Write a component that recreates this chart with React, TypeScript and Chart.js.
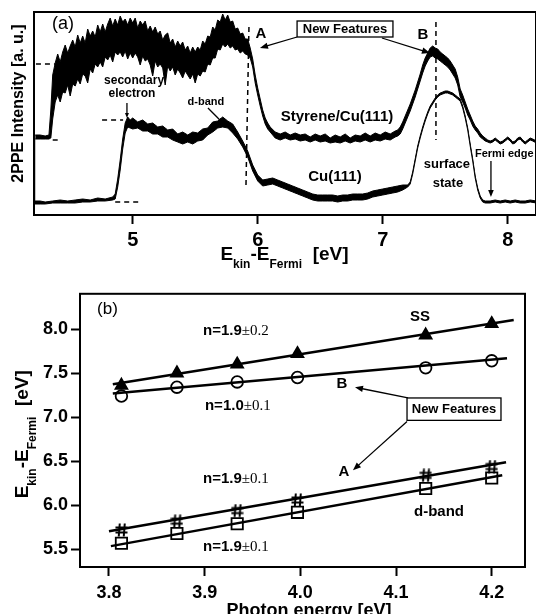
import React, { useEffect, useRef } from 'react';
import { Chart, registerables } from 'chart.js';

Chart.register(...registerables);

const SANS = "'Liberation Sans', Arial, Helvetica, sans-serif";
const SERIF = "'Liberation Serif', 'Times New Roman', serif";

// ---------------- Panel (a): 2PPE spectra ----------------
const aTickValues = [5, 6, 7, 8];
const aXRange = [4.2104, 8.2264];
const aYRange = [0, 203];

const styE = [4.22, 4.26, 4.30, 4.33, 4.345, 4.36, 4.38, 4.40, 4.42, 4.44, 4.46, 4.48, 4.50, 4.52, 4.54, 4.56, 4.58, 4.60, 4.62, 4.64, 4.66, 4.68, 4.70, 4.72, 4.74, 4.76, 4.78, 4.80, 4.82, 4.84, 4.86, 4.88, 4.90, 4.92, 4.94, 4.96, 4.98, 5.00, 5.02, 5.04, 5.06, 5.08, 5.10, 5.12, 5.14, 5.16, 5.18, 5.20, 5.22, 5.24, 5.26, 5.28, 5.30, 5.32, 5.34, 5.36, 5.38, 5.40, 5.42, 5.44, 5.46, 5.48, 5.50, 5.52, 5.54, 5.56, 5.58, 5.60, 5.62, 5.64, 5.66, 5.68, 5.70, 5.72, 5.74, 5.76, 5.78, 5.80, 5.82, 5.84, 5.86, 5.88, 5.90, 5.92, 5.94, 5.96, 5.98, 6.00, 6.02, 6.04, 6.06, 6.08, 6.10, 6.14, 6.18, 6.22, 6.26, 6.30, 6.34, 6.38, 6.42, 6.46, 6.50, 6.54, 6.58, 6.62, 6.66, 6.70, 6.74, 6.78, 6.82, 6.86, 6.90, 6.94, 6.98, 7.02, 7.06, 7.10, 7.12, 7.14, 7.16, 7.18, 7.20, 7.22, 7.24, 7.26, 7.28, 7.30, 7.32, 7.34, 7.36, 7.38, 7.40, 7.42, 7.44, 7.46, 7.48, 7.50, 7.52, 7.54, 7.56, 7.58, 7.60, 7.62, 7.64, 7.66, 7.68, 7.70, 7.72, 7.74, 7.76, 7.78, 7.80, 7.82, 7.84, 7.86, 7.88, 7.90, 7.92, 7.94, 7.96, 7.98, 8.00, 8.02, 8.04, 8.06, 8.08, 8.10, 8.12, 8.14, 8.16, 8.18, 8.20, 8.23];
const styHi = [80, 80, 79, 80, 105, 140,
  152, 161, 153, 163, 170, 162, 169, 175, 168, 180, 172, 179, 172, 186, 179, 184, 178, 190, 183, 191,
  183, 191, 197, 189, 196, 190, 199, 193, 196, 190, 197, 192, 197, 187, 194, 190, 194, 184, 189, 183,
  188, 181, 184, 175, 180, 182, 172, 176, 168, 174, 169, 173, 165, 169, 162, 168, 163, 168, 165, 174,
  171, 179, 178, 188, 185, 195, 193, 201, 195, 200, 193, 194, 186, 187, 181, 182, 176, 176, 167,
  156, 140, 127, 116, 105, 97, 92, 88, 83, 81, 83, 80, 82, 80, 81, 78, 81, 79, 81, 77, 80, 78, 81, 77, 80, 79, 82, 79, 82, 80, 83, 81, 84, 85, 88, 93, 99, 105, 111, 118, 125, 133, 141, 150, 157, 162, 167, 169, 167, 166, 163, 161, 159, 157, 154, 150, 146, 138, 126, 120, 113, 106, 100, 94, 89, 86, 82, 79, 77, 75, 74, 75, 77, 75, 73, 74, 76, 78, 76, 73, 74, 77, 78, 75, 73, 75, 77, 76, 74];
const styLo = [76, 76, 76, 76, 77, 96,
  113, 120, 113, 123, 122, 130, 119, 131, 129, 136, 131, 141, 139, 132, 146, 142, 151, 148, 153, 148,
  158, 155, 160, 153, 163, 160, 163, 158, 164, 156, 162, 157, 162, 158, 150, 159, 154, 156, 150, 139,
  154, 148, 151, 147, 130, 149, 144, 148, 140, 146, 142, 137, 144, 140, 136, 141, 132, 141, 139, 144,
  143, 151, 150, 157, 157, 166, 165, 171, 168, 171, 167, 169, 165, 166, 162, 164, 161, 160, 157,
  148, 132, 120, 109, 99, 91, 86, 83, 77, 75, 77, 75, 76, 74, 75, 73, 75, 73, 74, 72, 73, 72, 74, 72, 74, 73, 75, 73, 75, 74, 76, 75, 78, 79, 81, 86, 92, 98, 104, 111, 118, 126, 134, 142, 149, 154, 158, 159, 157, 156, 154, 152, 150, 148, 145, 141, 137, 130, 118, 113, 107, 100, 95, 89, 85, 82, 78, 76, 74, 73, 72, 73, 75, 73, 71, 72, 74, 76, 74, 71, 72, 75, 76, 73, 71, 73, 75, 74, 72];

const cuE = [4.21, 4.26, 4.30, 4.36, 4.42, 4.48, 4.54, 4.60, 4.66, 4.72, 4.78, 4.84, 4.86, 4.88, 4.90, 4.92, 4.94, 4.96, 4.98, 5.00, 5.04, 5.08, 5.12, 5.16, 5.20, 5.24, 5.28, 5.32, 5.36, 5.40, 5.44, 5.48, 5.52, 5.56, 5.60, 5.64, 5.68, 5.72, 5.76, 5.80, 5.84, 5.88, 5.92, 5.96, 6.00, 6.04, 6.08, 6.12, 6.16, 6.20, 6.24, 6.28, 6.32, 6.36, 6.40, 6.44, 6.48, 6.52, 6.56, 6.60, 6.64, 6.68, 6.72, 6.76, 6.80, 6.84, 6.88, 6.92, 6.96, 7.00, 7.04, 7.08, 7.12, 7.16, 7.20, 7.22, 7.24, 7.26, 7.28, 7.30, 7.32, 7.34, 7.36, 7.38, 7.40, 7.42, 7.44, 7.46, 7.48, 7.50, 7.52, 7.54, 7.56, 7.58, 7.60, 7.62, 7.64, 7.66, 7.68, 7.70, 7.72, 7.74, 7.76, 7.78, 7.80, 7.82, 7.86, 7.90, 7.94, 7.98, 8.02, 8.06, 8.10, 8.14, 8.18, 8.23];
const cuHi = [14, 14, 13, 14, 15, 14, 15, 16, 15, 17, 16, 18, 21, 36, 55, 76, 92, 98, 95, 97, 93, 95, 91, 92, 88, 89, 85, 86, 81, 83, 80, 83, 82, 86, 87, 93, 94, 98, 94, 91, 83, 74, 64, 50, 40, 35, 36, 37, 35, 33, 31, 29, 27, 25, 23, 21, 20, 20, 20, 20, 19, 20, 20, 21, 21, 21, 22, 24, 25, 26, 27, 28, 29, 30, 30, 33, 43, 56, 69, 79, 88, 96, 103, 109, 113, 117, 120, 122, 123, 124, 124, 123, 122, 120, 118, 116, 109, 99, 87, 71, 56, 39, 27, 19, 15, 14, 14, 15, 14, 15, 14, 15, 14, 14, 15, 14];
const cuLo = [11, 11, 11, 12, 12, 12, 12, 13, 13, 14, 14, 15, 16, 28, 45, 66, 82, 88, 87, 86, 87, 84, 84, 81, 81, 78, 78, 75, 73, 71, 73, 71, 74, 75, 80, 83, 87, 88, 87, 82, 76, 68, 58, 44, 34, 29, 30, 31, 29, 27, 25, 23, 21, 19, 17, 15, 14, 14, 14, 14, 13, 14, 14, 15, 15, 15, 16, 18, 19, 20, 21, 22, 23, 25, 28, 31, 41, 54, 67, 77, 86, 94, 101, 107, 111, 115, 118, 120, 121, 122, 122, 121, 120, 118, 116, 114, 107, 97, 85, 69, 54, 37, 25, 17, 13, 12, 12, 13, 12, 13, 12, 13, 12, 12, 13, 12];

// ---------------- Panel (b): peak positions vs photon energy ----------------
const bXTickValues = [3.8, 3.9, 4.0, 4.1, 4.2];
const bYTickValues = [5.5, 6.0, 6.5, 7.0, 7.5, 8.0];
const bXRange = [3.7697, 4.2348];
const bYRange = [5.30, 8.40];

const photonEnergy = [3.813, 3.871, 3.934, 3.997, 4.131, 4.200];
const ssPeak = [7.36, 7.50, 7.60, 7.72, 7.93, 8.06];
const bPeak = [7.24, 7.34, 7.40, 7.45, 7.56, 7.64];
const aPeak = [5.72, 5.82, 5.94, 6.06, 6.34, 6.44];
const dBandPeak = [5.57, 5.68, 5.79, 5.92, 6.19, 6.31];

const fitSSx = [3.804, 4.223];
const fitSSy = [7.373, 8.103];
const fitBx = [3.804, 4.216];
const fitBy = [7.270, 7.668];
const fitAx = [3.800, 4.215];
const fitAy = [5.706, 6.488];
const fitDx = [3.802, 4.211];
const fitDy = [5.537, 6.341];

// ---------------- annotations ----------------
type Part = { t: string; font: string; dy?: number };
const F = (size: number, bold = true, serif = false) => `${bold ? 'bold ' : ''}${size}px ${serif ? SERIF : SANS}`;

const aTexts = [
  { parts: [{ t: '(a)', font: F(18, false) }], x: 4.442, y: 191, align: 'center' },
  { parts: [{ t: 'A', font: F(15) }], x: 6.026, y: 181, align: 'center' },
  { parts: [{ t: 'B', font: F(15) }], x: 7.322, y: 180, align: 'center' },
  { parts: [{ t: 'secondary', font: F(12) }], x: 5.011, y: 134, align: 'center' },
  { parts: [{ t: 'electron', font: F(12) }], x: 4.994, y: 121, align: 'center' },
  { parts: [{ t: 'd-band', font: F(11) }], x: 5.586, y: 113, align: 'center' },
  { parts: [{ t: 'Styrene/Cu(111)', font: F(15) }], x: 6.634, y: 98, align: 'center' },
  { parts: [{ t: 'Cu(111)', font: F(15) }], x: 6.618, y: 38, align: 'center' },
  { parts: [{ t: 'surface', font: F(13) }], x: 7.514, y: 51, align: 'center' },
  { parts: [{ t: 'state', font: F(13) }], x: 7.522, y: 32, align: 'center' },
  { parts: [{ t: 'Fermi edge', font: F(11) }], x: 7.738, y: 61, align: 'left' },
];
const aBoxes = [{ t: 'New Features', font: F(13), x1: 6.315, x2: 7.082, y1: 194, y2: 178 }];
const aArrows = [
  { x1: 6.315, y1: 178, x2: 6.018, y2: 167, head: 8 },
  { x1: 6.994, y1: 177, x2: 7.378, y2: 162, head: 8 },
  { x1: 4.954, y1: 112, x2: 4.954, y2: 97, head: 5 },
  { x1: 5.602, y1: 107, x2: 5.722, y2: 92, head: 5 },
  { x1: 7.866, y1: 54, x2: 7.866, y2: 18, head: 7 },
];
const aDashes = [
  { x1: 4.226, y1: 151, x2: 4.378, y2: 151 },
  { x1: 4.36, y1: 75, x2: 4.42, y2: 75 },
  { x1: 4.755, y1: 95, x2: 4.923, y2: 95 },
  { x1: 4.86, y1: 13, x2: 5.06, y2: 13 },
  { x1: 5.930, y1: 188, x2: 5.906, y2: 28 },
  { x1: 7.426, y1: 193, x2: 7.426, y2: 75 },
];

const nParts = (a: string, b: string) => [{ t: a, font: F(15) }, { t: b, font: F(15, false, true) }];
const bTexts = [
  { parts: [{ t: '(b)', font: F(17, false) }], x: 3.7875, y: 8.225, align: 'left' },
  { parts: nParts('n=1.9', '±0.2'), x: 3.8983, y: 7.981, align: 'left' },
  { parts: nParts('n=1.0', '±0.1'), x: 3.9003, y: 7.129, align: 'left' },
  { parts: nParts('n=1.9', '±0.1'), x: 3.8983, y: 6.300, align: 'left' },
  { parts: nParts('n=1.9', '±0.1'), x: 3.8983, y: 5.526, align: 'left' },
  { parts: [{ t: 'SS', font: F(15) }], x: 4.1251, y: 8.136, align: 'center' },
  { parts: [{ t: 'B', font: F(15) }], x: 4.0435, y: 7.373, align: 'center' },
  { parts: [{ t: 'A', font: F(15) }], x: 4.0456, y: 6.377, align: 'center' },
  { parts: [{ t: 'd-band', font: F(15) }], x: 4.1449, y: 5.924, align: 'center' },
];
const bBoxes = [{ t: 'New Features', font: F(13), x1: 4.1115, x2: 4.2097, y1: 7.218, y2: 6.964 }];
const bArrows = [
  { x1: 4.1125, y1: 7.218, x2: 4.0571, y2: 7.340, head: 8 },
  { x1: 4.1115, y1: 6.952, x2: 4.0550, y2: 6.399, head: 8 },
];

const subTitle = (): Part[] => [
  { t: 'E', font: F(19) },
  { t: 'kin', font: F(12), dy: 8 },
  { t: '-E', font: F(19) },
  { t: 'Fermi', font: F(12), dy: 8 },
  { t: '  [eV]', font: F(19) },
];

function drawParts(ctx: CanvasRenderingContext2D, parts: Part[], x: number, y: number, align: string, baseline: CanvasTextBaseline = 'middle') {
  let w = 0;
  for (const p of parts) { ctx.font = p.font; w += ctx.measureText(p.t).width; }
  let cx = align === 'center' ? x - w / 2 : align === 'right' ? x - w : x;
  ctx.textAlign = 'left';
  ctx.textBaseline = baseline;
  ctx.fillStyle = '#000';
  for (const p of parts) {
    ctx.font = p.font;
    ctx.fillText(p.t, cx, y + (p.dy || 0));
    cx += ctx.measureText(p.t).width;
  }
}

function arrow(ctx: CanvasRenderingContext2D, x1: number, y1: number, x2: number, y2: number, head: number) {
  const ang = Math.atan2(y2 - y1, x2 - x1);
  ctx.beginPath();
  ctx.moveTo(x1, y1);
  ctx.lineTo(x2 - Math.cos(ang) * head * 0.8, y2 - Math.sin(ang) * head * 0.8);
  ctx.stroke();
  ctx.beginPath();
  ctx.moveTo(x2, y2);
  ctx.lineTo(x2 - head * Math.cos(ang) + head * 0.4 * Math.sin(ang), y2 - head * Math.sin(ang) - head * 0.4 * Math.cos(ang));
  ctx.lineTo(x2 - head * Math.cos(ang) - head * 0.4 * Math.sin(ang), y2 - head * Math.sin(ang) + head * 0.4 * Math.cos(ang));
  ctx.closePath();
  ctx.fill();
}

function annotPlugin(spec: any) {
  return {
    id: 'annot',
    afterDraw(chart: any) {
      const ctx: CanvasRenderingContext2D = chart.ctx;
      const xs = chart.scales.x, ys = chart.scales.y;
      const X = (v: number) => xs.getPixelForValue(v);
      const Y = (v: number) => ys.getPixelForValue(v);
      const ca = chart.chartArea;
      ctx.save();
      ctx.strokeStyle = '#000';
      ctx.fillStyle = '#000';
      ctx.lineWidth = 2;
      ctx.strokeRect(ca.left, ca.top, ca.right - ca.left, ca.bottom - ca.top);
      ctx.lineWidth = 1.5;
      ctx.setLineDash([5, 4]);
      for (const d of spec.dashes || []) {
        ctx.beginPath();
        ctx.moveTo(X(d.x1), Y(d.y1));
        ctx.lineTo(X(d.x2), Y(d.y2));
        ctx.stroke();
      }
      ctx.setLineDash([]);
      ctx.lineWidth = 1.3;
      for (const a of spec.arrows || []) arrow(ctx, X(a.x1), Y(a.y1), X(a.x2), Y(a.y2), a.head);
      for (const b of spec.boxes || []) {
        const x1 = X(b.x1), x2 = X(b.x2), y1 = Y(b.y1), y2 = Y(b.y2);
        ctx.fillStyle = '#fff';
        ctx.fillRect(x1, y1, x2 - x1, y2 - y1);
        ctx.lineWidth = 1.3;
        ctx.strokeRect(x1, y1, x2 - x1, y2 - y1);
        drawParts(ctx, [{ t: b.t, font: b.font }], (x1 + x2) / 2, (y1 + y2) / 2 + 0.5, 'center');
      }
      for (const t of spec.texts || []) drawParts(ctx, t.parts, X(t.x), Y(t.y), t.align);
      for (const t of spec.titles || []) {
        ctx.save();
        ctx.translate(ca.left + t.dx, t.rot ? ca.top + t.dy : ca.bottom + t.dy);
        if (t.rot) ctx.rotate(-Math.PI / 2);
        drawParts(ctx, t.parts, 0, 0, 'center', 'alphabetic');
        ctx.restore();
      }
      ctx.restore();
    },
  };
}

function tickGrid(len: number) {
  return { display: true, drawOnChartArea: false, drawTicks: true, tickLength: len, tickWidth: 2, tickColor: '#000' };
}

export default function App() {
  const refA = useRef<HTMLCanvasElement>(null);
  const refB = useRef<HTMLCanvasElement>(null);

  useEffect(() => {
    Chart.defaults.font.family = SANS;
    // each spectrum is a noise band between an upper and a lower trace: the upper trace is
    // filled black down to the axis, the lower one white, so the band is solid black
    const band = (xv: number[], yv: number[], color: string) => ({
      data: xv.map((x, i) => ({ x, y: yv[i] })),
      borderColor: '#000',
      backgroundColor: color,
      borderWidth: 1,
      pointRadius: 0,
      tension: 0,
      fill: 'origin',
    });
    const chartA = new Chart(refA.current as HTMLCanvasElement, {
      type: 'line',
      data: {
        // drawn last-to-first: styrene upper, styrene lower, Cu upper, Cu lower
        datasets: [
          band(cuE, cuLo, '#fff'),
          band(cuE, cuHi, '#000'),
          band(styE, styLo, '#fff'),
          band(styE, styHi, '#000'),
        ],
      },
      options: {
        animation: false,
        responsive: false,
        maintainAspectRatio: false,
        layout: { padding: { left: 34, top: 12, right: 0, bottom: 0 } },
        plugins: { legend: { display: false }, tooltip: { enabled: false } },
        scales: {
          x: {
            type: 'linear',
            min: aXRange[0],
            max: aXRange[1],
            afterBuildTicks: (s: any) => { s.ticks = aTickValues.map((v) => ({ value: v })); },
            afterFit: (s: any) => { s.height = 65; },
            grid: tickGrid(9),
            border: { display: false },
            ticks: { color: '#000', font: { family: SANS, size: 20, weight: 'bold' }, padding: 4, maxRotation: 0, callback: (v: any) => String(v) },
          },
          y: { type: 'linear', display: false, min: aYRange[0], max: aYRange[1] },
        },
      } as any,
      plugins: [annotPlugin({
        texts: aTexts, boxes: aBoxes, arrows: aArrows, dashes: aDashes,
        titles: [
          { parts: subTitle(), dx: 250.5, dy: 45, rot: false },
          { parts: [{ t: '2PPE Intensity [a. u.]', font: F(16) }], dx: -11.5, dy: 91.5, rot: true },
        ],
      }) as any],
    });

    const hash = document.createElement('canvas');
    hash.width = 13; hash.height = 14;
    const h = hash.getContext('2d') as CanvasRenderingContext2D;
    h.strokeStyle = '#000'; h.lineWidth = 2;
    h.beginPath();
    h.moveTo(4.8, 0.5); h.lineTo(3.8, 13.5);
    h.moveTo(9.8, 0.5); h.lineTo(8.8, 13.5);
    h.moveTo(0.5, 4.5); h.lineTo(12.5, 4.5);
    h.moveTo(0.5, 9.5); h.lineTo(12.5, 9.5);
    h.stroke();

    const fit = (xv: number[], yv: number[]) => ({
      data: xv.map((x, i) => ({ x, y: yv[i] })), borderColor: '#000', borderWidth: 2.5, pointRadius: 0, fill: false,
    });
    const pts = (yv: number[], style: any, r: number, filled: boolean) => ({
      data: photonEnergy.map((x, i) => ({ x, y: yv[i] })),
      showLine: false,
      pointStyle: style,
      pointRadius: r,
      pointBorderWidth: 1.8,
      pointBorderColor: '#000',
      pointBackgroundColor: filled ? '#000' : 'rgba(0,0,0,0)',
      borderColor: '#000',
      backgroundColor: filled ? '#000' : 'rgba(0,0,0,0)',
    });
    const chartB = new Chart(refB.current as HTMLCanvasElement, {
      type: 'line',
      data: {
        datasets: [
          fit(fitSSx, fitSSy), fit(fitBx, fitBy), fit(fitAx, fitAy), fit(fitDx, fitDy),
          pts(ssPeak, 'triangle', 6.8, true),
          pts(bPeak, 'circle', 5.8, false),
          pts(aPeak, hash, 6, false),
          pts(dBandPeak, 'rect', 8, false),
        ],
      },
      options: {
        animation: false,
        responsive: false,
        maintainAspectRatio: false,
        layout: { padding: { left: 0, top: 7, right: 11, bottom: 0 } },
        plugins: { legend: { display: false }, tooltip: { enabled: false } },
        scales: {
          x: {
            type: 'linear',
            min: bXRange[0],
            max: bXRange[1],
            afterBuildTicks: (s: any) => { s.ticks = bXTickValues.map((v) => ({ value: v })); },
            afterFit: (s: any) => { s.height = 47; },
            grid: tickGrid(9),
            border: { display: false },
            ticks: { color: '#000', font: { family: SANS, size: 18, weight: 'bold' }, padding: 6, maxRotation: 0, callback: (v: any) => Number(v).toFixed(1) },
          },
          y: {
            type: 'linear',
            min: bYRange[0],
            max: bYRange[1],
            afterBuildTicks: (s: any) => { s.ticks = bYTickValues.map((v) => ({ value: v })); },
            afterFit: (s: any) => { s.width = 80; },
            grid: tickGrid(9),
            border: { display: false },
            ticks: { color: '#000', font: { family: SANS, size: 18, weight: 'bold' }, padding: 3, callback: (v: any) => Number(v).toFixed(1) },
          },
        },
      } as any,
      plugins: [annotPlugin({
        texts: bTexts, boxes: bBoxes, arrows: bArrows,
        titles: [
          { parts: [{ t: 'Photon energy [eV]', font: F(18) }], dx: 229, dy: 49, rot: false },
          { parts: subTitle(), dx: -52, dy: 140.5, rot: true },
        ],
      }) as any],
    });

    return () => { chartA.destroy(); chartB.destroy(); };
  }, []);

  return (
    <div style={{ position: 'absolute', left: 0, top: 0, width: 536, height: 614, background: '#fff', overflow: 'hidden' }}>
      <canvas ref={refA} width={536} height={280} style={{ position: 'absolute', left: 0, top: 0 }} />
      <canvas ref={refB} width={536} height={334} style={{ position: 'absolute', left: 0, top: 280 }} />
    </div>
  );
}
